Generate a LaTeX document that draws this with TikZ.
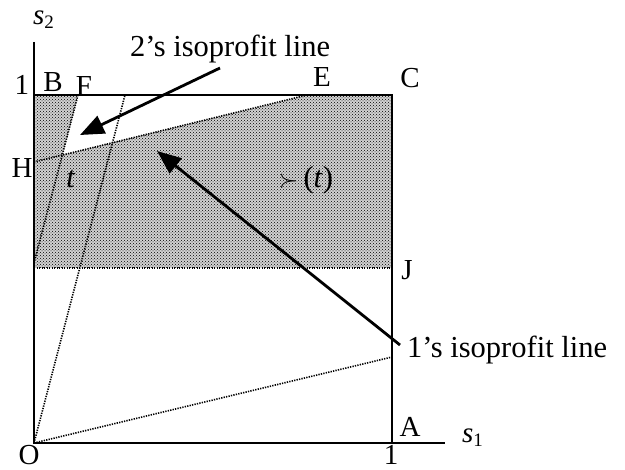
\documentclass[tikz,border=0pt]{standalone}
\usepackage{fontspec}
\setmainfont{Liberation Serif}
\usetikzlibrary{arrows.meta,patterns}
\begin{document}
\begin{tikzpicture}[x=1pt,y=-1pt,
  lbl/.style={inner sep=0pt,font=\fontsize{29}{31}\selectfont},
  big/.style={inner sep=0pt,font=\fontsize{30.5}{34}\selectfont},
  frame/.style={line width=2.3pt},
  dotline/.style={line width=1.6pt,dash pattern=on 1.3pt off 1.2pt},
  pointer/.style={line width=2.8pt,-{Triangle[length=24pt,width=19pt]}}]
\useasboundingbox (0,0) rectangle (625,470);
% key points
\coordinate (O) at (34,443);
\coordinate (Aa) at (392,443);
\coordinate (Cc) at (392,95);
\coordinate (Bb) at (34,95);
\coordinate (Ytop) at (34,42);
\coordinate (Xend) at (445,443);
\coordinate (Jl) at (34,268);
\coordinate (Jr) at (392,268);
\coordinate (Fp) at (78,95);
\coordinate (Fend) at (34,263);
\coordinate (G) at (125,95);
\coordinate (Ep) at (307,95);
\coordinate (Hp) at (34,162);
\coordinate (Lr) at (392,357);
\coordinate (P) at (intersection of Fp--Fend and Hp--Ep);
% shaded region
\fill[gray!35] (Bb) -- (Fp) -- (P) -- (Ep) -- (Cc) -- (Jr) -- (Jl) -- cycle;
\fill[pattern=crosshatch dots,pattern color=black] (Bb) -- (Fp) -- (P) -- (Ep) -- (Cc) -- (Jr) -- (Jl) -- cycle;
% dotted lines
\draw[dotline] (O) -- (G);
\draw[dotline] (Fp) -- (Fend);
\draw[dotline] (Hp) -- (Ep);
\draw[dotline] (O) -- (Lr);
\draw[dotline] (Jl) -- (Jr);
% frame and axes
\draw[frame] (Ytop) -- (O) -- (Xend);
\draw[frame] (Bb) -- (Cc) -- (Aa);
% labels
\node[lbl] (one2) at (22,85) {1};
\node[lbl] (B) at (53,82) {B};
\node[lbl] (F) at (84,86) {F};
\node[lbl] (E) at (322,77) {E};
\node[lbl] (C) at (410,78) {C};
\node[lbl] (H) at (22,168) {H};
\node[lbl] (J) at (407,270) {J};
\node[lbl] (A) at (410,427) {A};
\node[lbl] (one1) at (391,455) {1};
\node[lbl] (Ol) at (29,455) {O};
\node[lbl,anchor=base west] (s2) at (33,25) {\textit{s}\raisebox{-0.3ex}{\fontsize{19}{20}\selectfont 2}};
\node[lbl,anchor=base west] (s1) at (462,443) {\textit{s}\raisebox{-0.3ex}{\fontsize{19}{20}\selectfont 1}};
\node[big] (t) at (71,179) {\textit{t}};
\node[big] (pref) at (306,180) {$\succ$\,(\textit{t})};
\node[big,anchor=base west] (lab2) at (130,57) {2’s isoprofit line};
\node[big,anchor=base west] (lab1) at (407,358) {1’s isoprofit line};
% pointers
\coordinate (a2s) at (220,68);
\coordinate (a2e) at (80,135);
\coordinate (a1s) at (400,345);
\coordinate (a1e) at (157,151);
\draw[pointer] (a2s) -- (a2e);
\draw[pointer] (a1s) -- (a1e);
\end{tikzpicture}
\end{document}
